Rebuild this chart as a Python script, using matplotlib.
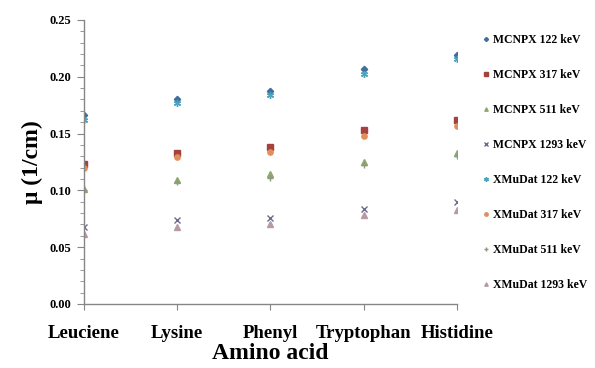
import matplotlib
matplotlib.use('Agg')
import matplotlib.pyplot as plt
from matplotlib.ticker import MultipleLocator

acids = ['Leuciene', 'Lysine', 'Phenyl', 'Tryptophan', 'Histidine']

mcnpx_122 = [0.166, 0.180, 0.187, 0.207, 0.219]
mcnpx_317 = [0.123, 0.133, 0.138, 0.153, 0.162]
mcnpx_511 = [0.101, 0.109, 0.114, 0.125, 0.133]
mcnpx_1293 = [0.068, 0.074, 0.076, 0.084, 0.090]
xmudat_122 = [0.162, 0.177, 0.184, 0.202, 0.216]
xmudat_317 = [0.120, 0.129, 0.134, 0.148, 0.157]
xmudat_511 = [0.100, 0.107, 0.111, 0.122, 0.130]
xmudat_1293 = [0.062, 0.068, 0.070, 0.078, 0.083]

series = [
    ('MCNPX 122 keV', mcnpx_122, 'D', '#3f6f9f', 3.2),
    ('MCNPX 317 keV', mcnpx_317, 's', '#a3423e', 3.8),
    ('MCNPX 511 keV', mcnpx_511, '^', '#8fa86c', 3.8),
    ('MCNPX 1293 keV', mcnpx_1293, 'x', '#6e6a8e', 4.5),
    ('XMuDat 122 keV', xmudat_122, (6, 2, 0), '#4ba3bd', 5),
    ('XMuDat 317 keV', xmudat_317, 'o', '#e08f5c', 3.8),
    ('XMuDat 511 keV', xmudat_511, '+', '#8a9a7c', 5),
    ('XMuDat 1293 keV', xmudat_1293, '^', '#b69ba6', 3.8),
]

plt.rcParams['font.family'] = ['Liberation Serif', 'DejaVu Serif']
plt.rcParams['font.weight'] = 'bold'

fig = plt.figure(figsize=(5.95, 3.68), dpi=100)
ax = fig.add_axes([0.141, 0.174, 0.627, 0.772])

x = list(range(len(acids)))
for label, vals, m, col, ms in series:
    ax.plot(x, vals, linestyle='none', marker=m, color=col, markersize=ms,
            markeredgewidth=1.0, label=label)

ax.set_xlim(0, 4)
ax.set_ylim(0, 0.25)
ax.set_xticks(x)
ax.set_xticklabels(acids, fontsize=13.5, fontweight='bold')
ax.yaxis.set_major_locator(MultipleLocator(0.05))
ax.yaxis.set_minor_locator(MultipleLocator(0.01))
ax.set_yticklabels(['%.2f' % v for v in ax.get_yticks()], fontsize=9, fontweight='bold')
ax.tick_params(axis='y', which='major', direction='out', length=5, color='#868686', pad=4)
ax.tick_params(axis='y', which='minor', direction='out', length=3, color='#868686')
ax.tick_params(axis='x', which='major', direction='out', length=4, color='#868686', pad=11)

for s in ['top', 'right']:
    ax.spines[s].set_visible(False)
for s in ['left', 'bottom']:
    ax.spines[s].set_color('#868686')
    ax.spines[s].set_linewidth(1)

ax.set_ylabel('μ (1/cm)', fontsize=17, fontweight='bold', labelpad=5)
ax.set_xlabel('Amino acid', fontsize=17, fontweight='bold', labelpad=1)

leg = fig.legend(loc='upper left', bbox_to_anchor=(0.812, 0.908), frameon=False,
                 fontsize=8.5, labelspacing=1.95, handlelength=0.5, handletextpad=0.3,
                 markerscale=0.65, borderaxespad=0, borderpad=0)

fig.savefig('out.png', dpi=100)
